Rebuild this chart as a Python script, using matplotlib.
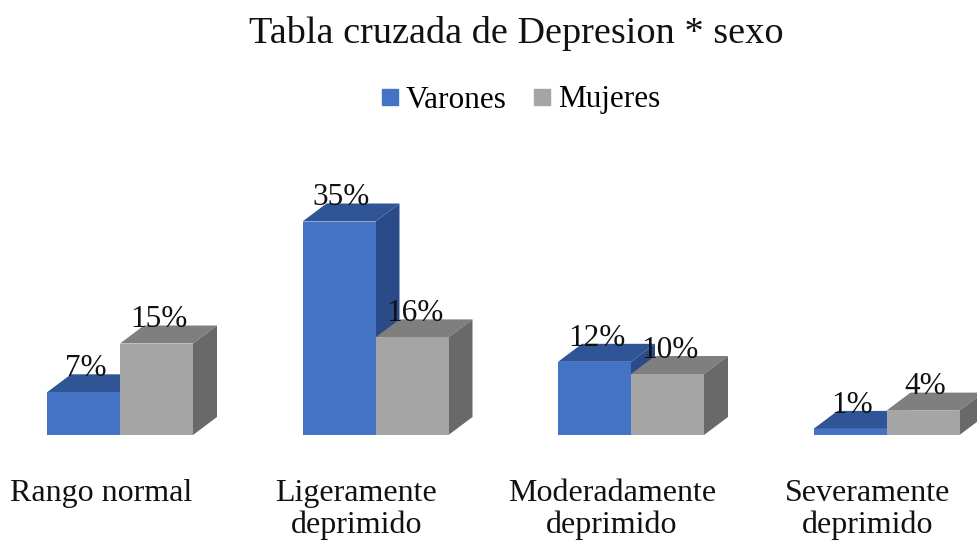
import matplotlib
matplotlib.use("Agg")
import matplotlib.pyplot as plt
from matplotlib.patches import Polygon
from matplotlib.lines import Line2D

plt.rcParams['font.family'] = ['Liberation Serif', 'DejaVu Serif']

categorias = ['Rango normal', 'Ligeramente\ndeprimido', 'Moderadamente\ndeprimido', 'Severamente\ndeprimido']
varones = [7, 35, 12, 1]
mujeres = [15, 16, 10, 4]
etiquetas_v = ['7%', '35%', '12%', '1%']
etiquetas_m = ['15%', '16%', '10%', '4%']

# colours: front, top, side
azul = ('#4472C4', '#2F5597', '#2A4B88')
gris = ('#A5A5A5', '#7F7F7F', '#696969')

W, H = 977, 541
fig = plt.figure(figsize=(W / 100, H / 100), dpi=100)
base_px = 435
top_px = 160
px_per_pct = 6.1
px_per_cat = 255.5
ax = fig.add_axes([0, (H - base_px) / H, 1, (base_px - top_px) / H])
ax.set_xlim(-120 / px_per_cat, (W - 120) / px_per_cat)
ax.set_ylim(0, (base_px - top_px) / px_per_pct)
ax.axis('off')

w = 73 / px_per_cat
dx = 24 / px_per_cat
dy = 18 / px_per_pct


def bar3d(x0, val, cols, label):
    x1 = x0 + w
    top = Polygon([(x0, val), (x1, val), (x1 + dx, val + dy), (x0 + dx, val + dy)],
                  closed=True, facecolor=cols[1], edgecolor='none')
    side = Polygon([(x1, 0), (x1 + dx, dy), (x1 + dx, val + dy), (x1, val)],
                   closed=True, facecolor=cols[2], edgecolor='none')
    ax.add_patch(top)
    ax.add_patch(side)
    ax.bar(x0, val, w, align='edge', color=cols[0], edgecolor='none')
    ax.text(x0 + w / 2 + 0.01, val + dy - 0.3, label, ha='center', va='baseline',
            fontsize=22.5, color='#111111')


for i in range(len(categorias)):
    bar3d(i - w, varones[i], azul, etiquetas_v[i])
    bar3d(i, mujeres[i], gris, etiquetas_m[i])

for i, c in enumerate(categorias):
    fig.text((120 + px_per_cat * i - 19) / W, 1 - 479 / H, c, ha='center', va='top',
             fontsize=23, linespacing=1.1, color='#111111')

fig.text(516 / W, 1 - 43 / H, 'Tabla cruzada de Depresion * sexo', ha='center',
         va='baseline', fontsize=27.5, color='#111111')

handles = [Line2D([], [], marker='s', linestyle='none', markersize=11, color=azul[0]),
           Line2D([], [], marker='s', linestyle='none', markersize=11, color=gris[0])]
fig.legend(handles, ['Varones', 'Mujeres'], loc='center', bbox_to_anchor=(521 / W, 1 - 100 / H),
           ncol=2, frameon=False, fontsize=22.5, handlelength=0.5, handletextpad=0.25,
           columnspacing=0.9, borderpad=0)

fig.savefig('out.png', dpi=100)
